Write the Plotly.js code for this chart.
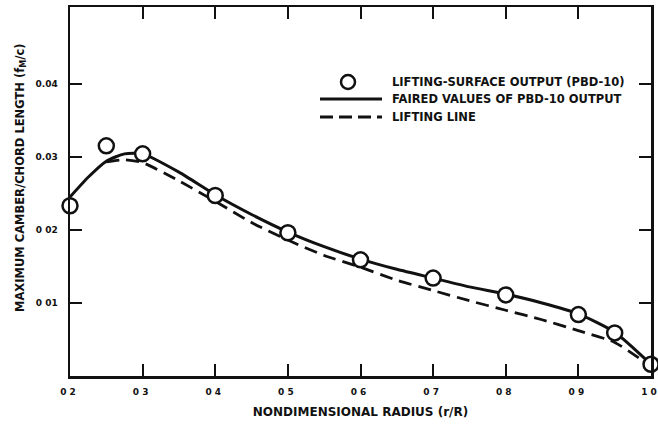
<!DOCTYPE html>
<html>
<head>
<meta charset="utf-8">
<script src="https://cdn.plot.ly/plotly-3.0.1.min.js"></script>
<style>
  html, body { margin: 0; padding: 0; background: #fff; }
  #chart { width: 658px; height: 425px; }
</style>
</head>
<body>
<div id="chart"></div>
<script>
// Lifting-surface output (PBD-10), one circle per radial station
const stationR = [0.2, 0.25, 0.3, 0.4, 0.5, 0.6, 0.7, 0.8, 0.9, 0.95, 1.0];
const stationCamber = [0.0233, 0.0315, 0.0304, 0.0247, 0.0196, 0.0159, 0.0134, 0.0111, 0.0084, 0.0059, 0.0016];

// Faired values of the PBD-10 output (solid curve)
const fairedR = [0.2, 0.225, 0.25, 0.275, 0.3, 0.35, 0.4, 0.45, 0.5, 0.55, 0.6, 0.65, 0.7, 0.75, 0.8, 0.85, 0.9, 0.95, 1.0];
const fairedCamber = [0.0245, 0.0272, 0.0294, 0.0304, 0.0304, 0.0279, 0.0248, 0.0221, 0.0197, 0.0177, 0.0160, 0.0146, 0.0134, 0.0122, 0.0112, 0.0100, 0.0085, 0.0060, 0.0016];

// Lifting-line result (dashed curve)
const liftingR = [0.25, 0.275, 0.3, 0.35, 0.4, 0.45, 0.5, 0.55, 0.6, 0.65, 0.7, 0.75, 0.8, 0.85, 0.9, 0.95, 1.0];
const liftingCamber = [0.0293, 0.0296, 0.0292, 0.0267, 0.0239, 0.0210, 0.0186, 0.0165, 0.0149, 0.0131, 0.0117, 0.0103, 0.0090, 0.0077, 0.0062, 0.0046, 0.0013];

// Axis ticks
const xTickVals = [0.2, 0.3, 0.4, 0.5, 0.6, 0.7, 0.8, 0.9, 1.0];
const xTickText = ["0 2", "0 3", "0 4", "0 5", "0 6", "0 7", "0 8", "0 9", "1 0"];
const yTickVals = [0.01, 0.02, 0.03, 0.04];
const yTickText = ["0 01", "0 02", "0.03", "0.04"];

// Legend labels
const legendLabels = ["LIFTING-SURFACE OUTPUT (PBD-10)", "FAIRED VALUES OF PBD-10 OUTPUT", "LIFTING LINE"];

const INK = "#111";
const BOLD = "DejaVu Sans";

const traces = [
  {
    x: liftingR, y: liftingCamber, type: "scatter", mode: "lines",
    line: { color: INK, width: 2.8, dash: "13px,7px", shape: "spline", smoothing: 0.6 },
    hoverinfo: "skip", showlegend: false
  },
  {
    x: fairedR, y: fairedCamber, type: "scatter", mode: "lines",
    line: { color: INK, width: 3, shape: "spline", smoothing: 0.6 },
    hoverinfo: "skip", showlegend: false
  },
  {
    x: stationR, y: stationCamber, type: "scatter", mode: "markers",
    marker: { size: 15, color: "#fff", line: { color: INK, width: 2.5 } },
    cliponaxis: false, showlegend: false
  }
];

// Legend block drawn inside the frame
const lx0 = (320 - 70) / 581, lx1 = (382 - 70) / 581, ltx = (390 - 70) / 581;
const rowY = [(376 - 82) / 369, (376 - 99) / 369, (376 - 117) / 369];

const shapes = [
  { type: "circle", xref: "paper", yref: "paper", xsizemode: "pixel", ysizemode: "pixel",
    xanchor: (348 - 70) / 581, yanchor: rowY[0], x0: -7, x1: 7, y0: -7, y1: 7,
    line: { color: INK, width: 2.5 }, fillcolor: "#fff" },
  { type: "line", xref: "paper", yref: "paper", x0: lx0, x1: lx1, y0: rowY[1], y1: rowY[1],
    line: { color: INK, width: 3 } },
  { type: "line", xref: "paper", yref: "paper", x0: lx0, x1: lx1, y0: rowY[2], y1: rowY[2],
    line: { color: INK, width: 2.8, dash: "13px,6px" } }
];

const annotations = legendLabels.map((t, i) => ({
  text: t, xref: "paper", yref: "paper", x: ltx, y: rowY[i],
  xanchor: "left", yanchor: "middle", showarrow: false,
  font: { family: BOLD, size: 11.5, color: INK, weight: "bold" }
}));

// Vertical axis title, set a little above the frame's mid-height
annotations.push({
  text: "MAXIMUM CAMBER/CHORD LENGTH (f<sub>M</sub>/c)",
  xref: "paper", yref: "paper", x: (20 - 70) / 581, y: (376 - 178) / 369,
  xanchor: "center", yanchor: "middle", textangle: -90, showarrow: false,
  font: { family: BOLD, size: 11.5, color: INK, weight: "bold" }
});

const axisCommon = {
  showline: true, linecolor: INK, linewidth: 2.5, mirror: "ticks",
  ticks: "inside", ticklen: 12, tickwidth: 2, tickcolor: INK,
  showgrid: false, zeroline: false, fixedrange: true,
  ticklabeloverflow: "allow",
  tickfont: { family: BOLD, size: 9, color: INK, weight: "bold" }
};

const layout = {
  width: 658, height: 425,
  margin: { l: 70, r: 7, t: 7, b: 49 },
  paper_bgcolor: "#fff", plot_bgcolor: "#fff",
  showlegend: false,
  xaxis: Object.assign({}, axisCommon, {
    range: [0.2, 1.0], tickmode: "array", tickvals: xTickVals, ticktext: xTickText,
    ticklabelstandoff: 6, ticklabelshift: -2,
    title: { text: "NONDIMENSIONAL RADIUS (r/R)", standoff: 12,
             font: { family: BOLD, size: 12, color: INK, weight: "bold" } }
  }),
  yaxis: Object.assign({}, axisCommon, {
    range: [0, 0.0505], tickmode: "array", tickvals: yTickVals, ticktext: yTickText,
    ticklabelstandoff: 8
  }),
  shapes: shapes,
  annotations: annotations
};

Plotly.newPlot("chart", traces, layout, { staticPlot: true, displayModeBar: false });
</script>
</body>
</html>
